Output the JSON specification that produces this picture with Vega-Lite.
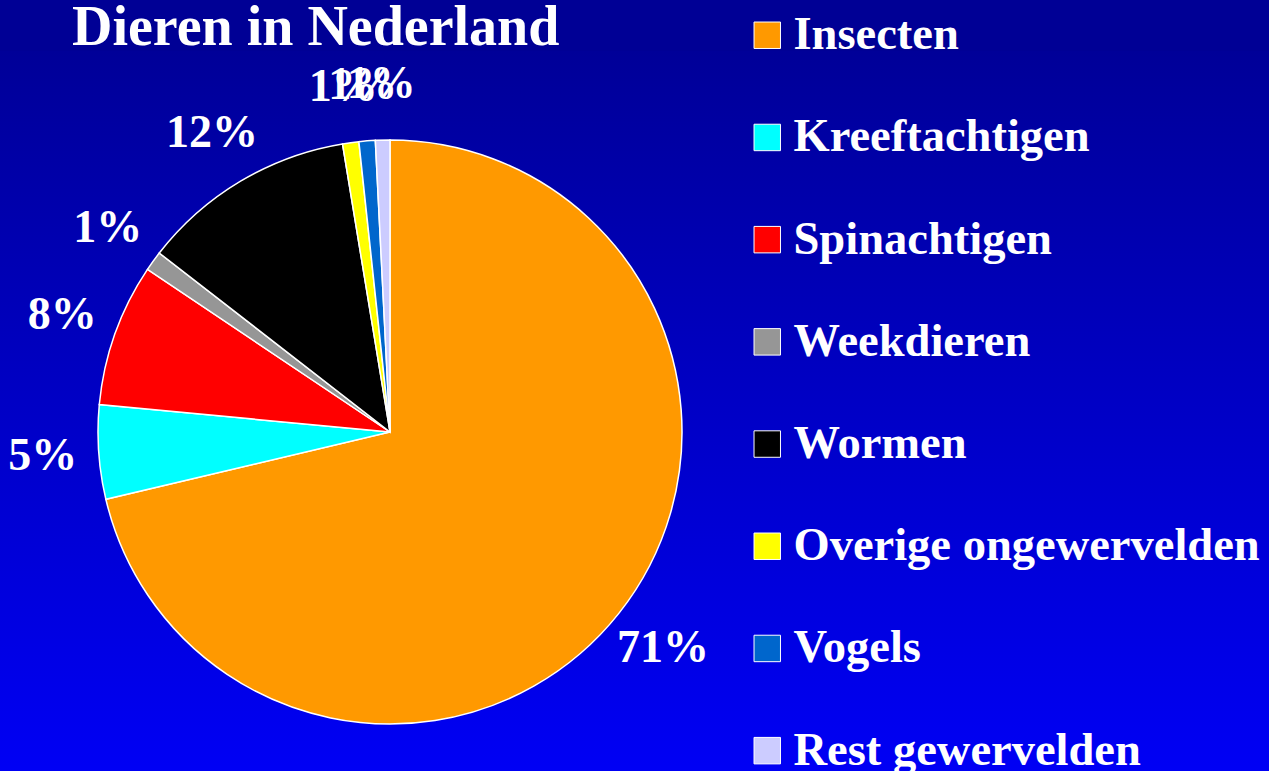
{
  "$schema": "https://vega.github.io/schema/vega-lite/v6.json",
  "padding": 0,
  "spacing": 0,
  "bounds": "flush",
  "background": "#000095",
  "resolve": {"scale": {"color": "independent"}, "legend": {"color": "independent"}},
  "data": {
    "values": [
      {"i": 1, "k": "Insecten", "v": 71.3, "label": "71%"},
      {"i": 2, "k": "Kreeftachtigen", "v": 5.2, "label": "5%"},
      {"i": 3, "k": "Spinachtigen", "v": 7.9, "label": "8%"},
      {"i": 4, "k": "Weekdieren", "v": 1.1, "label": "1%"},
      {"i": 5, "k": "Wormen", "v": 11.9, "label": "12%"},
      {"i": 6, "k": "Overige ongewervelden", "v": 0.9, "label": "1%"},
      {"i": 7, "k": "Vogels", "v": 0.9, "label": "1%"},
      {"i": 8, "k": "Rest gewervelden", "v": 0.8, "label": "1%"}
    ]
  },
  "hconcat": [
    {
      "title": {
        "text": "Dieren in Nederland",
        "anchor": "start",
        "frame": "group",
        "orient": "top",
        "offset": -50,
        "dx": 72,
        "baseline": "alphabetic",
        "font": "Liberation Serif",
        "fontSize": 56,
        "fontWeight": "bold",
        "color": "white"
      },
      "width": 780,
      "height": 762,
      "view": {
        "stroke": null,
        "fill": {"gradient": "linear", "x1": 0, "y1": 0, "x2": 0, "y2": 1,
          "stops": [{"offset": 0, "color": "#000098"}, {"offset": 1, "color": "#0000FA"}]}
      },
      "encoding": {
        "theta": {"field": "v", "type": "quantitative", "stack": true},
        "order": {"field": "i", "type": "quantitative"}
      },
      "layer": [
        {
          "mark": {"type": "arc", "outerRadius": 292, "stroke": "white", "strokeWidth": 1.5},
          "encoding": {
            "color": {
              "field": "k", "type": "nominal", "legend": null,
              "scale": {
                "domain": ["Insecten", "Kreeftachtigen", "Spinachtigen", "Weekdieren", "Wormen", "Overige ongewervelden", "Vogels", "Rest gewervelden"],
                "range": ["#FF9900", "#00FFFF", "#FF0000", "#969696", "#000000", "#FFFF00", "#0066CC", "#CCCCFF"]
              }
            }
          }
        },
        {
          "mark": {"type": "text", "radius": 348, "font": "Liberation Serif", "fontSize": 46, "fontWeight": "bold", "color": "white", "align": "center", "baseline": "middle"},
          "encoding": {
            "text": {"field": "label", "type": "nominal"}
          }
        }
      ]
    },
    {
      "width": 489,
      "height": 762,
      "view": {
        "stroke": null,
        "fill": {"gradient": "linear", "x1": 0, "y1": 0, "x2": 0, "y2": 1,
          "stops": [{"offset": 0, "color": "#000098"}, {"offset": 1, "color": "#0000FA"}]}
      },
      "mark": {"type": "square", "opacity": 0},
      "encoding": {
        "color": {
          "field": "k", "type": "nominal",
          "scale": {
            "domain": ["Insecten", "Kreeftachtigen", "Spinachtigen", "Weekdieren", "Wormen", "Overige ongewervelden", "Vogels", "Rest gewervelden"],
            "range": ["#FF9900", "#00FFFF", "#FF0000", "#969696", "#000000", "#FFFF00", "#0066CC", "#CCCCFF"]
          },
          "legend": {
            "title": null,
            "orient": "none",
            "legendX": -36,
            "legendY": -39,
            "symbolType": "square",
            "symbolSize": 700,
            "symbolOpacity": 1,
            "symbolStrokeColor": "white",
            "symbolStrokeWidth": 1,
            "labelFont": "Liberation Serif",
            "labelFontSize": 46.5,
            "labelFontWeight": "bold",
            "labelColor": "white",
            "labelLimit": 600,
            "labelOffset": 3,
            "rowPadding": 55.2,
            "padding": 0
          }
        }
      }
    }
  ]
}
